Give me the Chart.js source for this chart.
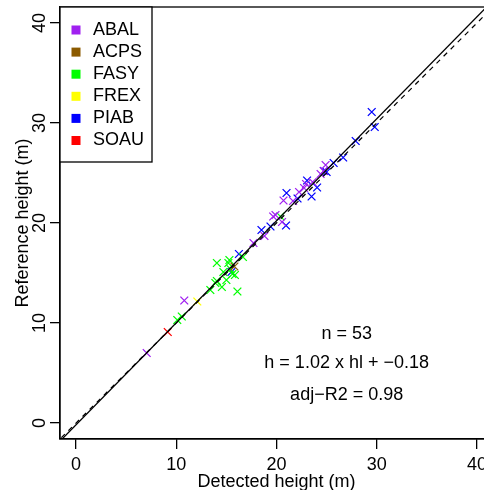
<!DOCTYPE html>
<html>
<head>
<meta charset="utf-8">
<script src="https://cdn.jsdelivr.net/npm/chart.js@4"></script>
<style>
  html, body { margin: 0; padding: 0; background: #fff; overflow: hidden; }
  #wrap { position: absolute; left: 0; top: 0; width: 500px; height: 490px; }
</style>
</head>
<body>
<div id="wrap"><canvas id="grafico" width="500" height="490"></canvas></div>
<script>
// species and colours (legend order)
const species = ['ABAL', 'ACPS', 'FASY', 'FREX', 'PIAB', 'SOAU'];
const colors = ['#A020F0', '#8B5A00', '#00FF00', '#FFFF00', '#0000FF', '#FF0000'];

// detected height (x) and reference height (y), one pair of arrays per species
const abalX = [7.05, 10.8, 17.7, 18.8, 19.67, 19.9, 20.55, 20.7, 21.65, 22.25, 22.75, 22.95, 23.6, 24.4, 24.9, 24.7];
const abalY = [7.0, 12.25, 18.0, 18.7, 20.65, 20.8, 20.1, 22.25, 22.2, 23.1, 23.5, 23.9, 24.1, 24.9, 25.8, 25.2];
const acpsX = [15.8];
const acpsY = [15.65];
const fasyX = [10.1, 10.55, 13.4, 13.9, 14.05, 15.3, 15.2, 14.7, 15.6, 15.85, 14.05, 15.0, 14.55, 16.1, 16.65, 15.4, 20.4];
const fasyY = [10.3, 10.65, 13.3, 14.0, 16.0, 16.3, 16.0, 15.1, 14.9, 14.8, 14.2, 14.3, 13.6, 13.15, 16.6, 15.4, 20.65];
const frexX = [12.1];
const frexY = [12.15];
const piabX = [15.5, 16.25, 18.5, 19.4, 20.95, 21.0, 22.1, 23.5, 23.05, 24.05, 24.75, 25.0, 25.7, 26.65, 27.9, 29.5, 29.8];
const piabY = [15.1, 16.9, 19.3, 19.65, 19.75, 23.0, 22.45, 22.65, 24.25, 23.55, 25.2, 25.1, 26.0, 26.55, 28.2, 31.1, 29.6];
const soauX = [9.15];
const soauY = [9.1];

// fitted line h = a + b * hl, and the 1:1 line
const fitCoef = [-0.18, 1.02];
const lineX = [-5, 45];

// axes
const xTicks = [0, 10, 20, 30, 40];
const yTicks = [0, 10, 20, 30, 40];
const axisMin = -1.6, axisMax = 41.6;

// text in the lower right
const notes = ['n = 53', 'h = 1.02 x hl + \u22120.18', 'adj\u2212R2 = 0.98'];
const noteX = 27;
const noteY = [8.9, 6.0, 2.75];

const fonte = '18px "Liberation Sans", Arial, sans-serif';

const pares = [[abalX, abalY], [acpsX, acpsY], [fasyX, fasyY], [frexX, frexY], [piabX, piabY], [soauX, soauY]];

const pontos = species.map((sp, i) => ({
  label: sp,
  data: pares[i][0].map((x, k) => ({ x: x, y: pares[i][1][k] })),
  pointStyle: 'crossRot',
  pointRadius: 5.5,
  borderWidth: 1.3,
  borderColor: colors[i],
  backgroundColor: colors[i],
  showLine: false
}));

// lines go first so they are drawn on top of the points
const linhas = [
  {
    label: 'fit',
    data: lineX.map(x => ({ x: x, y: fitCoef[0] + fitCoef[1] * x })),
    showLine: true, pointRadius: 0, borderColor: '#000', borderWidth: 1.3
  },
  {
    label: '1:1',
    data: lineX.map(x => ({ x: x, y: x })),
    showLine: true, pointRadius: 0, borderColor: '#000', borderWidth: 1.2, borderDash: [5, 5]
  }
];

// box, tick labels, titles, legend and notes
const extras = {
  id: 'extras',
  afterDraw(chart) {
    const ctx = chart.ctx;
    const a = chart.chartArea;
    const xs = chart.scales.x, ys = chart.scales.y;
    ctx.save();
    ctx.strokeStyle = '#000';
    ctx.lineWidth = 1.3;
    ctx.strokeRect(a.left, a.top, a.right - a.left, a.bottom - a.top);

    ctx.fillStyle = '#000';
    ctx.font = fonte;
    ctx.textAlign = 'center';
    ctx.textBaseline = 'alphabetic';
    xTicks.forEach(v => ctx.fillText(String(v), xs.getPixelForValue(v), 469.5));
    yTicks.forEach(v => {
      ctx.save();
      ctx.translate(44.5, ys.getPixelForValue(v));
      ctx.rotate(-Math.PI / 2);
      ctx.fillText(String(v), 0, 0);
      ctx.restore();
    });
    ctx.fillText('Detected height (m)', (a.left + a.right) / 2, 487);
    ctx.save();
    ctx.translate(28, (a.top + a.bottom) / 2);
    ctx.rotate(-Math.PI / 2);
    ctx.fillText('Reference height (m)', 0, 0);
    ctx.restore();

    ctx.textBaseline = 'middle';
    notes.forEach((t, i) => ctx.fillText(t, xs.getPixelForValue(noteX), ys.getPixelForValue(noteY[i])));

    // legend
    ctx.fillStyle = '#fff';
    ctx.fillRect(a.left, a.top, 92, 155);
    ctx.strokeRect(a.left, a.top, 92, 155);
    ctx.textAlign = 'left';
    species.forEach((sp, i) => {
      const y = a.top + 23 + i * 22.1;
      ctx.fillStyle = colors[i];
      ctx.fillRect(a.left + 11.5, y - 4.5, 9, 9);
      ctx.fillStyle = '#000';
      ctx.fillText(sp, a.left + 33, y);
    });
    ctx.restore();
  }
};

const eixo = (ticks, h) => ({
  type: 'linear',
  min: axisMin,
  max: axisMax,
  afterBuildTicks: s => { s.ticks = ticks.map(v => ({ value: v })); },
  afterFit: s => { if (h) s.height = 51; else s.width = 60; },
  ticks: { display: false },
  grid: { drawOnChartArea: false, drawTicks: true, tickLength: 10, color: '#000', lineWidth: 1.3 },
  border: { display: true, color: '#000', width: 1.3 }
});

new Chart(document.getElementById('grafico'), {
  type: 'scatter',
  data: { datasets: linhas.concat(pontos) },
  options: {
    responsive: false,
    animation: false,
    events: [],
    layout: { padding: { top: 7, right: 7, left: 0, bottom: 0 } },
    plugins: { legend: { display: false }, tooltip: { enabled: false } },
    scales: { x: eixo(xTicks, true), y: eixo(yTicks, false) }
  },
  plugins: [extras]
});
</script>
</body>
</html>
